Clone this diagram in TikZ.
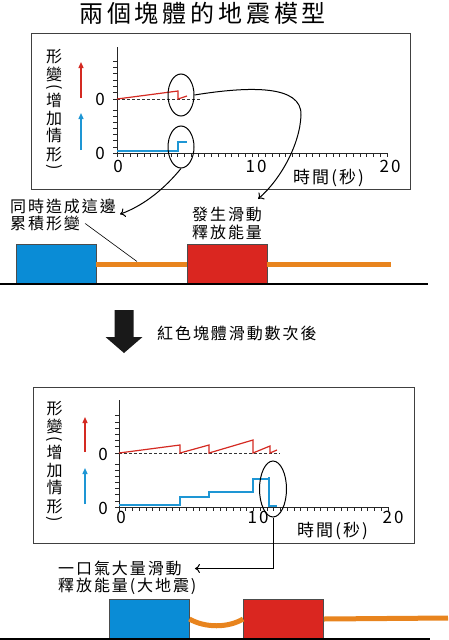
\documentclass[tikz,border=0pt]{standalone}
\usepackage{fontspec}
\setmainfont{Noto Sans CJK TC}
\newfontfamily\cjk[LetterSpace=12]{Noto Sans CJK TC}
\newfontfamily\cjktitle[LetterSpace=16]{Noto Sans CJK TC}
\usetikzlibrary{shapes.geometric, arrows.meta, positioning, calc}

\definecolor{blockblue}{HTML}{0A8CD6}
\definecolor{blockred}{HTML}{DA2620}
\definecolor{rodorange}{HTML}{E8841E}
\definecolor{linered}{HTML}{D42A22}
\definecolor{lineblue}{HTML}{1E96D4}

\begin{document}
\begin{tikzpicture}[
  x=1pt, y=-1pt,
  every node/.style={font=\cjk\fontsize{16}{18}\selectfont, inner sep=0pt},
  title/.style={font=\cjktitle\fontsize{24}{26}\selectfont},
  tlab/.style={font=\cjk\fontsize{17}{19}\selectfont},
  num/.style={font=\cjk\fontsize{17}{19}\selectfont},
  ylab/.style={font=\fontsize{16}{18}\selectfont},
  frame/.style={draw=black!75, line width=1pt},
  axis/.style={line width=1pt, draw=black!85},
  tick/.style={line width=0.7pt, draw=black!85},
  zero/.style={dash pattern=on 3pt off 2pt, line width=0.8pt, draw=black!80},
  redline/.style={line width=1.2pt, draw=linered},
  blueline/.style={line width=1.2pt, draw=lineblue},
  up/.style={-{Triangle[length=6pt,width=5pt]}, line width=1.3pt},
  ring/.style={draw, ellipse, line width=1pt, minimum width=26pt,
    minimum height=42pt},
  block/.style={draw=black!70, line width=0.8pt, minimum width=80pt,
    minimum height=40pt},
  rod/.style={line width=5pt, draw=rodorange},
  ground/.style={line width=1.2pt},
  arr/.style={-{To[length=5pt,width=9pt]}, line width=1pt},
]
\useasboundingbox (0,0) rectangle (448,640);

%% TITLE
\node[title, anchor=west] (title) at (79,13) {兩個塊體的地震模型};

%% PANEL A — first slip of the red block
\draw[frame] (31,33) rectangle (410,189);
\foreach \c/\y [count=\k] in {形/56.5, 變/74.5, \rotatebox{-90}{(}/87.5,
    增/100.5, 加/118.5, 情/135.5, 形/154.5, \rotatebox{-90}{)}/167.5}
  \node[ylab] (ylabA\k) at (54,\y) {\c};
\draw[up, linered]  (81,98)  -- (81,62);
\draw[up, lineblue] (81,150) -- (81,113);

\draw[axis] (117,47) -- (117,153);
\draw[axis] (113,153) -- (387,153);
\foreach \k in {0,...,40} \draw[tick] ({117+6.75*\k},153) -- ++(0,4);
\foreach \k in {0,...,6} \draw[tick] (117,{99-6.3*\k}) -- ++(-4,0);
\foreach \k in {1,...,7} \draw[tick] (117,{153-6.1*\k}) -- ++(-4,0);

\node[num] (zrA)  at (100,99.5) {0};
\node[num] (zbA)  at (100,153)  {0};
\node[num] (x0A)  at (118,166)   {0};
\node[num] (x10A) at (256,166)   {10};
\node[num] (x20A) at (390,166)   {20};
\node[tlab, anchor=west] (timeA) at (293,178) {時間(秒)};

\draw[zero] (117,99) -- (200,99);
\draw[redline]  (117,99) -- (178,91) -- (178,99) -- (187,96);
\draw[blueline] (117,151) -- (178,151) -- (178,142) -- (187,142);
\node[ring] (ringA) at (181,95)  {};
\node[ring] (ringB) at (181,147) {};

%% BLOCKS A
\node[anchor=west] (accum1) at (10,206.5) {同時造成這邊};
\node[anchor=west] (accum2) at (10,223.5) {累積形變};
\node[anchor=west] (slip1)  at (192,214.5) {發生滑動};
\node[anchor=west] (slip2)  at (192,232.5) {釋放能量};

\node[block, fill=blockblue] (blueA) at (56,264)  {};
\node[block, fill=blockred]  (redA)  at (227,264) {};
\coordinate (rodendA) at (391,264);
\draw[rod] (blueA.east) -- (redA.west);
\draw[rod] (redA.east) -- (rodendA);
\draw[ground] (0,284) -- (428,284);
\draw[line width=0.6pt] ([xshift=5pt]accum2.east)
  -- ($(blueA.east)!0.45!(redA.west)+(0,-2.5)$);

\draw[arr] (ringA.east) .. controls (250,86) and (302,85) .. (301,115)
  .. controls (300,145) and (280,180) .. ([xshift=-4pt,yshift=8pt]slip1.north east);
\draw[arr] (ringB.south) .. controls (165,188) and (145,205)
  .. ([xshift=4pt]accum1.south east);

%% BIG ARROW
\fill[black!90] (114.5,310) -- (133.5,310) -- (133.5,337) -- (142.5,337)
  -- (124,353) -- (105.5,337) -- (114.5,337) -- cycle;
\node[anchor=west] (after) at (157,333) {紅色塊體滑動數次後};

%% PANEL B — after several slips
\draw[frame] (33,387) rectangle (414,543);
\foreach \c/\y [count=\k] in {形/408.5, 變/426.5, \rotatebox{-90}{(}/439.5,
    增/452.5, 加/470.5, 情/487.5, 形/506.5, \rotatebox{-90}{)}/519.5}
  \node[ylab] (ylabB\k) at (54.5,\y) {\c};
\draw[up, linered]  (85,452) -- (85,417);
\draw[up, lineblue] (85,504) -- (85,468);

\draw[axis] (119,400) -- (119,507);
\draw[axis] (115,507) -- (388,507);
\foreach \k in {0,...,40} \draw[tick] ({119+6.725*\k},507) -- ++(0,4);
\foreach \k in {0,...,6} \draw[tick] (119,{453-6.2*\k}) -- ++(-4,0);
\foreach \k in {1,...,7} \draw[tick] (119,{507-6.1*\k}) -- ++(-4,0);

\node[num] (zrB)  at (103,454) {0};
\node[num] (zbB)  at (103,508) {0};
\node[num] (x0B)  at (121,517) {0};
\node[num] (x10B) at (258,517) {10};
\node[num] (x20B) at (393,517) {20};
\node[tlab, anchor=west] (timeB) at (297,531) {時間(秒)};

\draw[zero] (119,453) -- (280,453);
\draw[redline] (119,453) -- (180,445) -- (180,453) -- (209,445) -- (209,453)
  -- (253,440) -- (253,453) -- (270,446) -- (270,453) -- (277,450);
\draw[blueline] (119,505) -- (180,505) -- (180,497) -- (209,497) -- (209,492)
  -- (253,492) -- (253,479) -- (269,479) -- (269,477) -- (269,506) -- (277,506);
\node[ring, minimum width=27pt, minimum height=56pt] (ringC) at (273,489) {};

%% BLOCKS B
\node[anchor=west] (quake1) at (58,568.5) {一口氣大量滑動};
\node[anchor=west] (quake2) at (58,586)   {釋放能量(大地震)};
\draw[arr] (ringC.south) |- ([xshift=13pt]quake1.east);

\node[block, fill=blockblue] (blueB) at (149,619)   {};
\node[block, fill=blockred]  (redB)  at (283.5,619) {};
\coordinate (rodendB) at (448,618);
\draw[rod] (blueB.east) .. controls (205,628) and (228,628) .. (redB.west);
\draw[rod] (redB.east) -- (rodendB);
\draw[ground] (0,639) -- (430,639);

\end{tikzpicture}
\end{document}
